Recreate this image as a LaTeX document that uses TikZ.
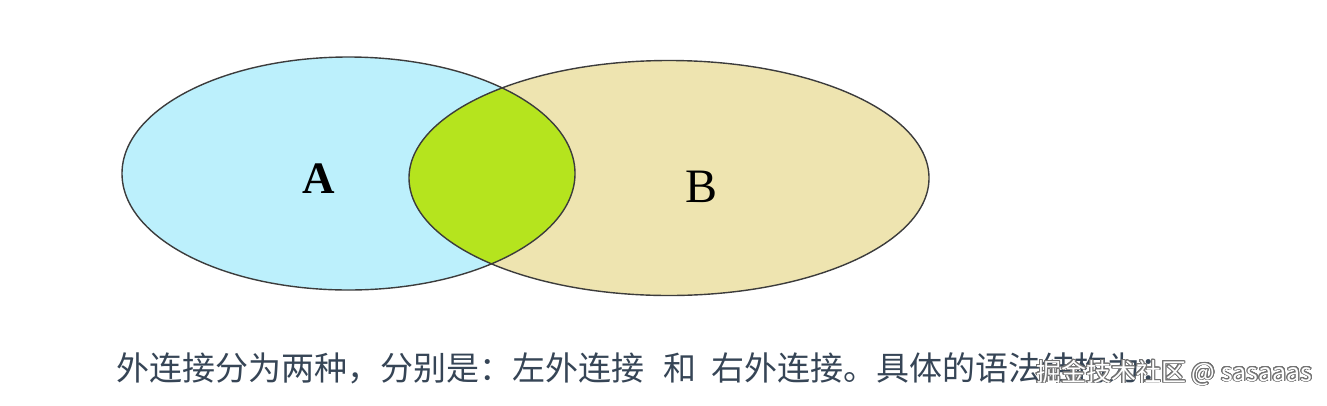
\documentclass[tikz,border=0pt]{standalone}
\usepackage{fontspec}
\usepackage{contour}
\setmainfont{Liberation Serif}
\newfontfamily\cjk{Noto Sans CJK SC}
\contourlength{0.9bp}
\contournumber{24}
\definecolor{setA}{HTML}{BCF0FC}
\definecolor{setB}{HTML}{EEE4B0}
\definecolor{setAB}{HTML}{B5E41E}
\definecolor{edge}{HTML}{3C3C3C}
\definecolor{bodytext}{HTML}{364556}
\tikzset{
  setlabel/.style={inner sep=0pt, anchor=base, text=black},
  bodyline/.style={inner sep=0pt, anchor=base west, text=bodytext, font=\cjk\fontsize{33bp}{40bp}\selectfont},
  mark wm/.style={inner sep=0pt, anchor=base west, text=white, font=\cjk\fontsize{25bp}{30bp}\selectfont},
  outline/.style={draw=edge, line width=1.4bp}
}
\begin{document}
\begin{tikzpicture}[x=1bp,y=-1bp]
\useasboundingbox[fill=white] (0,0) rectangle (1327,405);
% fills
\fill[setA] (348.5,173.5) ellipse [x radius=226.5, y radius=116.5];
\fill[setB] (669,178) ellipse [x radius=260, y radius=117.5];
\begin{scope}
  \clip (348.5,173.5) ellipse [x radius=226.5, y radius=116.5];
  \fill[setAB] (669,178) ellipse [x radius=260, y radius=117.5];
\end{scope}
% outlines
\draw[outline] (348.5,173.5) ellipse [x radius=226.5, y radius=116.5];
\draw[outline] (669,178) ellipse [x radius=260, y radius=117.5];
% labels
\node[setlabel, font=\bfseries\fontsize{45bp}{50bp}\selectfont] (la) at (319,193) {A};
\node[setlabel, font=\fontsize{48bp}{52bp}\selectfont] (lb) at (701.5,202) {B};
% text
\node[bodyline] (txt) at (116,380) {外连接分为两种，分别是：左外连接\hspace{19bp}和\hspace{15bp}右外连接。具体的语法结构为：};
\node[mark wm] (wm) at (1036,381) {\contour{black!55}{掘金技术社区 @ sasaaas}};
\end{tikzpicture}
\end{document}
